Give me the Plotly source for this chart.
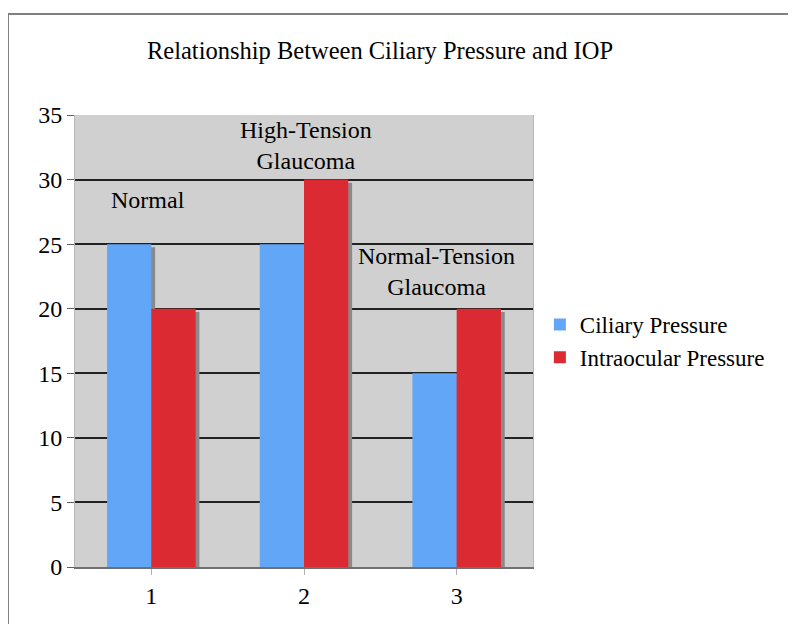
import plotly.graph_objects as go

categories = [1, 2, 3]
ciliary = [25, 25, 15]
intraocular = [20, 30, 20]
series_names = ["Ciliary Pressure", "Intraocular Pressure"]
title_text = "Relationship Between Ciliary Pressure and IOP"
y_ticks = [0, 5, 10, 15, 20, 25, 30, 35]
group_labels = ["Normal", "High-Tension<br>Glaucoma", "Normal-Tension<br>Glaucoma"]
label_x = [0.98, 2.01, 2.87]
label_y = [28.42, 32.6, 22.92]

FONT = "Liberation Serif, Times New Roman, serif"
BLUE = "#62a6f7"
RED = "#dc2a33"
SHADOW = "#8a8a8a"
W = 0.29

fig = go.Figure()
# shadows
for vals, off in [(ciliary, -W), (intraocular, 0)]:
    fig.add_trace(go.Bar(x=categories, y=[v - 0.25 for v in vals], base=0, width=W, offset=off + 0.025,
                         marker=dict(color=SHADOW, line=dict(width=0)), showlegend=False, hoverinfo="skip"))
fig.add_trace(go.Bar(x=categories, y=ciliary, name=series_names[0], width=W, offset=-W,
                     marker=dict(color=BLUE, line=dict(width=0))))
fig.add_trace(go.Bar(x=categories, y=intraocular, name=series_names[1], width=W, offset=0,
                     marker=dict(color=RED, line=dict(width=0))))

for t, x, y in zip(group_labels, label_x, label_y):
    fig.add_annotation(x=x, y=y, text=t, showarrow=False, xref="x", yref="y",
                       font=dict(family=FONT, size=24, color="black"))

fig.update_layout(
    width=788, height=616,
    margin=dict(l=67, r=263, t=107, b=57),
    paper_bgcolor="white", plot_bgcolor="#d0d0d0",
    barmode="overlay",
    title=dict(text=title_text, x=372 / 788, xanchor="center", y=1 - 42 / 616, yanchor="middle",
               font=dict(family=FONT, size=24.5, color="black")),
    font=dict(family=FONT, size=23, color="black"),
    legend=dict(x=1.015, y=0.5, xanchor="left", yanchor="middle", font=dict(family=FONT, size=23),
                itemsizing="constant", tracegroupgap=0, bgcolor="rgba(0,0,0,0)"),
    showlegend=True,
    shapes=[dict(type="rect", xref="paper", yref="paper", x0=-0.1463, x1=1.7, y0=-0.3, y1=1.2235,
                 line=dict(color="#808080", width=2), fillcolor="rgba(0,0,0,0)", layer="below")],
)
fig.update_xaxes(range=[0.5, 3.5], tickvals=categories, ticktext=[str(c) for c in categories],
                 ticks="outside", tickson="boundaries", ticklen=6, tickcolor="#b0b0b0",
                 showline=True, linecolor="#707070", linewidth=2, showgrid=False,
                 tickfont=dict(family=FONT, size=24), mirror=False)
fig.update_yaxes(range=[0, 35], tickvals=y_ticks, ticks="outside", ticklen=7, tickcolor="#606060",
                 showgrid=True, gridcolor="#222222", gridwidth=2, zeroline=False,
                 showline=True, linecolor="#b8b8b8", linewidth=1, mirror=True,
                 tickfont=dict(family=FONT, size=24))

fig.write_html("out.html")
